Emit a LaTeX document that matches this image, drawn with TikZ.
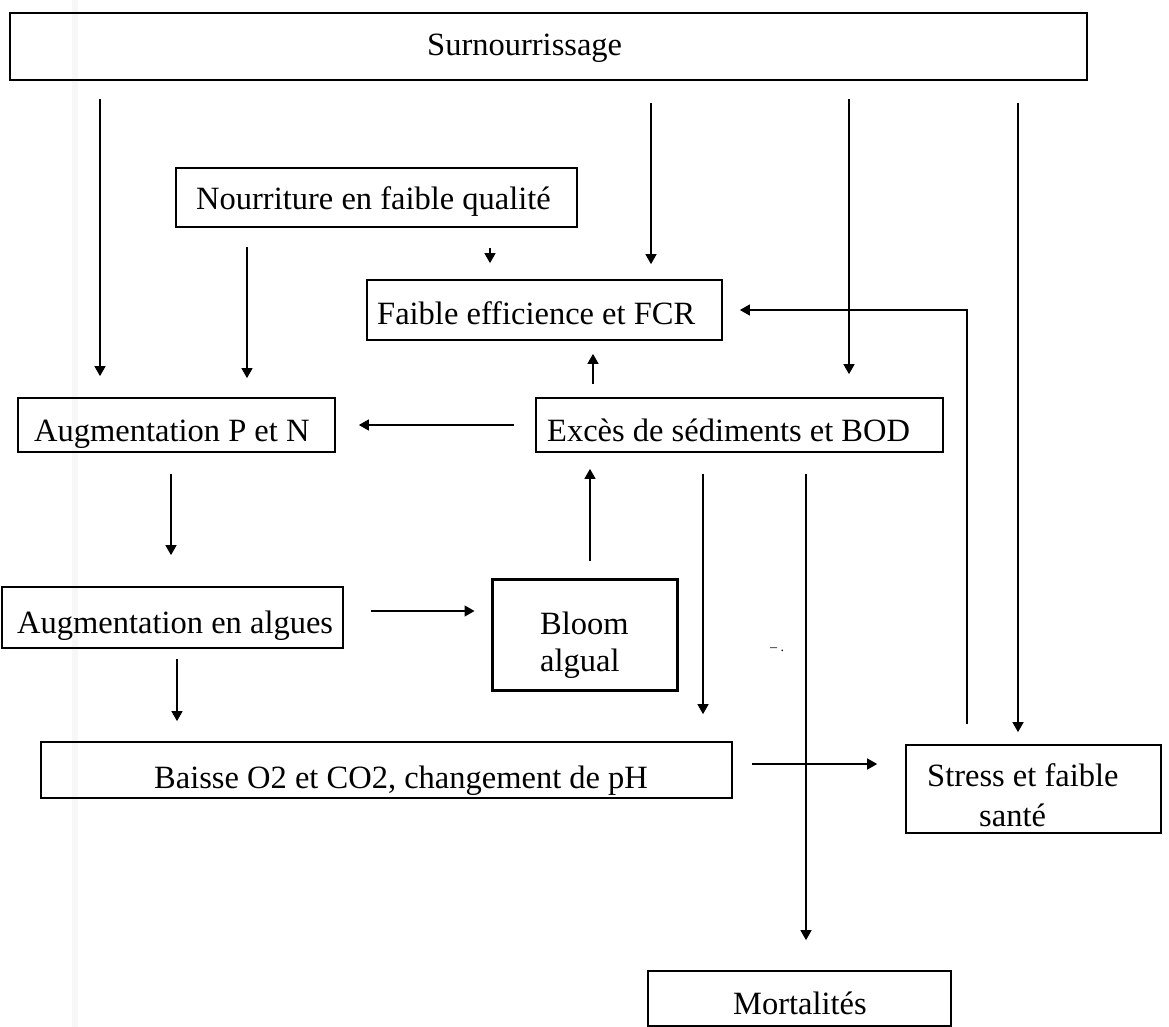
\documentclass[tikz,border=0pt]{standalone}
\usepackage{fontspec}
\setmainfont{Liberation Serif}
\usetikzlibrary{arrows.meta}
\begin{document}
\begin{tikzpicture}[x=1pt,y=-1pt,
  box/.style={draw, line width=1.7pt, inner sep=0pt},
  lbl/.style={inner sep=0pt, anchor=base west, font=\fontsize{32.5}{37}\selectfont},
  arr/.style={line width=1.4pt, -{Triangle[length=10pt,width=11pt]}}]
\useasboundingbox (0,0) rectangle (1169,1027);
\fill[white] (0,0) rectangle (1169,1027);
\fill[black!3] (72,0) rectangle (78,1027);

% boxes
\node[box, minimum width=1077pt, minimum height=67pt] (surn) at (548.5,46.5) {};
\node[box, minimum width=401pt, minimum height=59pt] (nour) at (376.5,197.5) {};
\node[box, minimum width=355pt, minimum height=60pt] (faible) at (544.5,310) {};
\node[box, minimum width=317pt, minimum height=54pt] (aupn) at (176.5,425) {};
\node[box, minimum width=407pt, minimum height=54pt] (exces) at (739.5,425) {};
\node[box, minimum width=341pt, minimum height=61pt] (algues) at (172.5,617.5) {};
\node[box, line width=3pt, minimum width=185pt, minimum height=111pt] (bloom) at (584.5,634.5) {};
\node[box, minimum width=691pt, minimum height=56pt] (baisse) at (386.5,770) {};
\node[box, minimum width=255pt, minimum height=88pt] (stress) at (1033.5,789) {};
\node[box, minimum width=303pt, minimum height=55pt] (mort) at (799.5,998.5) {};

% texts
\node[lbl] (surnT) at (427,56) {Surnourrissage};
\node[lbl] (nourT) at (196,209) {Nourriture en faible qualité};
\node[lbl] (faibleT) at (377,324) {Faible efficience et FCR};
\node[lbl] (aupnT) at (34,441) {Augmentation P et N};
\node[lbl] (excesT) at (547,441) {Excès de sédiments et BOD};
\node[lbl] (alguesT) at (17,633) {Augmentation en algues};
\node[lbl] (bloomT1) at (540,634) {Bloom};
\node[lbl] (bloomT2) at (540,671) {algual};
\node[lbl] (baisseT) at (154,788) {Baisse O2 et CO2, changement de pH};
\node[lbl] (stressT1) at (927,786) {Stress et faible};
\node[lbl] (stressT2) at (979,826) {santé};
\node[lbl] (mortT) at (733,1014) {Mortalités};
\node[inner sep=0pt, font=\fontsize{14}{14}\selectfont] (mark) at (777,650) {– .};

% connectors
\draw[arr, shorten <=18pt, shorten >=21pt] (surn.south -| 100,0) -- (aupn.north -| 100,0);
\draw[arr, shorten <=19pt, shorten >=19pt] (nour.south -| 247,0) -- (aupn.north -| 247,0);
\draw[arr, shorten <=20pt, shorten >=16pt] (nour.south -| 490,0) -- (faible.north -| 490,0);
\draw[arr, shorten <=22pt, shorten >=15pt] (surn.south -| 651,0) -- (faible.north -| 651,0);
\draw[arr, shorten <=18pt, shorten >=23pt] (surn.south -| 849,0) -- (exces.north -| 849,0);
\draw[arr, shorten <=22pt, shorten >=12pt] (surn.south -| 1018,0) -- (stress.north -| 1018,0);
\draw[arr, shorten <=20pt, shorten >=17pt] (stress.north -| 967,0) |- (faible.east);
\draw[arr, shorten <=13pt, shorten >=13pt] (exces.north -| 593,0) -- (faible.south -| 593,0);
\draw[arr, shorten <=21pt, shorten >=23pt] (exces.west) -- (aupn.east);
\draw[arr, shorten <=21pt, shorten >=31pt] (aupn.south -| 171,0) -- (algues.north -| 171,0);
\draw[arr, shorten <=27pt, shorten >=16pt] (algues.east |- 0,611) -- (bloom.west |- 0,611);
\draw[arr, shorten <=17pt, shorten >=16pt] (bloom.north -| 590,0) -- (exces.south -| 590,0);
\draw[arr, shorten <=10pt, shorten >=20pt] (algues.south -| 177,0) -- (baisse.north -| 177,0);
\draw[arr, shorten <=21pt, shorten >=27pt] (exces.south -| 703,0) -- (baisse.north -| 703,0);
\draw[arr, shorten <=21pt, shorten >=30pt] (exces.south -| 806,0) -- (mort.north -| 806,0);
\draw[arr, shorten <=19pt, shorten >=28pt] (baisse.east |- 0,764) -- (stress.west |- 0,764);
\end{tikzpicture}
\end{document}
